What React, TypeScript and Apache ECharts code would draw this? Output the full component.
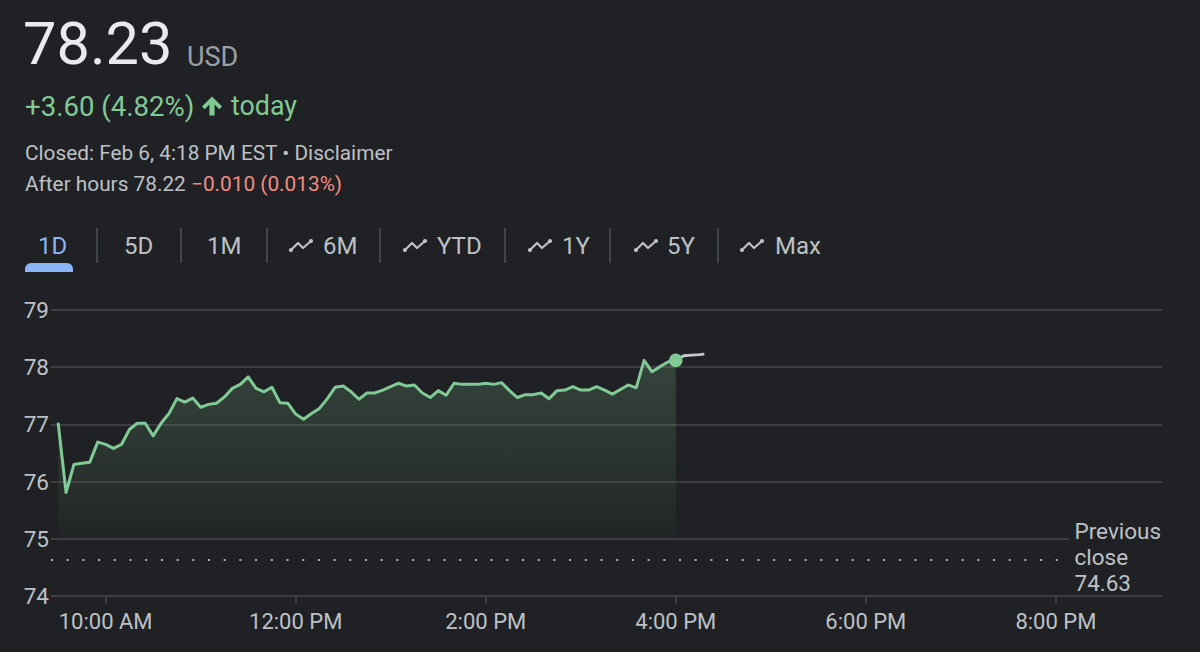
import React, { useEffect, useRef } from "react";
import * as echarts from "echarts";

// ---- data ----
const sessionStartMinute = 570; // 9:30 AM
const sessionStepMinutes = 5;
const prices = [
  77.03, 75.81, 76.30, 76.32, 76.34, 76.69, 76.65, 76.58, 76.65, 76.91,
  77.02, 77.02, 76.80, 77.02, 77.19, 77.45, 77.39, 77.46, 77.30, 77.35,
  77.37, 77.48, 77.63, 77.70, 77.83, 77.63, 77.57, 77.65, 77.38, 77.37,
  77.18, 77.09, 77.19, 77.28, 77.45, 77.65, 77.67, 77.57, 77.44, 77.55,
  77.55, 77.60, 77.66, 77.72, 77.67, 77.69, 77.55, 77.47, 77.59, 77.51,
  77.72, 77.70, 77.70, 77.70, 77.72, 77.70, 77.73, 77.59, 77.47, 77.52,
  77.52, 77.55, 77.45, 77.59, 77.60, 77.66, 77.60, 77.60, 77.66, 77.60,
  77.53, 77.61, 77.69, 77.64, 78.12, 77.92, 78.01, 78.09, 78.12,
];
const afterHoursMinutes = [960, 965, 970, 975, 978];
const afterHoursPrices = [78.12, 78.2, 78.21, 78.22, 78.23];
const previousClose = 74.63;
const xTickValues = [600, 720, 840, 960, 1080, 1200];
const xTickLabels = ["10:00 AM", "12:00 PM", "2:00 PM", "4:00 PM", "6:00 PM", "8:00 PM"];
const yMin = 74;
const yMax = 79;
const tabLabels = ["1D", "5D", "1M", "6M", "YTD", "1Y", "5Y", "Max"];
const tabHasIcon = [false, false, false, true, true, true, true, true];

// ---- layout / style ----
const BG = "#202124";
const GREEN = "#81c995";
const GREY = "#bdc1c6";
const GRID = "#45474b";
const FONT = "Roboto";
const tabTextX = [38, 124, 207, 323, 437, 562, 667, 775];
const tabIconX = [0, 0, 0, 289, 403, 528, 634, 740];
const dividerX = [97, 181, 267, 380, 505, 610, 718];

export default function App() {
  const ref = useRef<HTMLDivElement>(null);

  useEffect(() => {
    if (!ref.current) return;
    const chart = echarts.init(ref.current, null, { renderer: "svg" });

    const lineData = prices.map((p, i) => [sessionStartMinute + sessionStepMinutes * i, p]);
    const lastPoint = lineData[lineData.length - 1];
    const afterData = afterHoursMinutes.map((m, i) => [m, afterHoursPrices[i]]);

    const txt = (text: string, x: number, y: number, size: number, fill: string, extra: any = {}) => ({
      type: "text",
      x,
      y,
      z: 100,
      style: {
        text,
        fill,
        fontSize: size,
        fontFamily: FONT,
        verticalAlign: "middle",
        align: "left",
        ...extra,
      },
    });

    const graphics: any[] = [];
    graphics.push(txt("78.23", 23, 44, 59.5, "#e8eaed"));
    graphics.push(txt("USD", 187, 56.5, 27, "#9aa0a6"));
    graphics.push(txt("+3.60 (4.82%)", 25, 106, 27.6, GREEN));
    graphics.push({
      type: "polygon",
      z: 100,
      shape: {
        points: [
          [212, 96.5],
          [222, 106.5],
          [219.3, 109.2],
          [214.6, 104.5],
          [214.6, 115.5],
          [209.4, 115.5],
          [209.4, 104.5],
          [204.7, 109.2],
          [202, 106.5],
        ],
      },
      style: { fill: GREEN },
    });
    graphics.push(txt("today", 231, 106, 26.8, GREEN));
    graphics.push(txt("Closed: Feb 6, 4:18 PM EST • Disclaimer", 25, 153, 20.8, GREY));
    graphics.push(txt("After hours 78.22", 25, 184, 20.8, GREY));
    graphics.push(txt("−0.010 (0.013%)", 191, 184, 20.8, "#f28b82"));

    tabLabels.forEach((t, i) => {
      graphics.push(txt(t, tabTextX[i], 246, 24, i === 0 ? "#8ab4f8" : GREY));
      if (tabHasIcon[i]) {
        const x0 = tabIconX[i];
        const pts = [
          [x0 + 2, 250],
          [x0 + 9, 243],
          [x0 + 14, 248],
          [x0 + 22, 241],
        ];
        graphics.push({
          type: "polyline",
          z: 100,
          shape: { points: pts },
          style: { stroke: GREY, lineWidth: 2.2, fill: "none", lineJoin: "round" },
        });
        graphics.push({ type: "circle", z: 100, shape: { cx: pts[0][0], cy: pts[0][1], r: 2.1 }, style: { fill: GREY } });
        graphics.push({ type: "circle", z: 100, shape: { cx: pts[3][0], cy: pts[3][1], r: 2.1 }, style: { fill: GREY } });
      }
    });
    dividerX.forEach((x) => {
      graphics.push({
        type: "line",
        z: 100,
        shape: { x1: x, y1: 228, x2: x, y2: 263 },
        style: { stroke: "#4d5054", lineWidth: 1.5 },
      });
    });
    graphics.push({
      type: "rect",
      z: 100,
      shape: { x: 25, y: 263, width: 48, height: 9, r: [6, 6, 0, 0] },
      style: { fill: "#8ab4f8" },
    });

    // previous close label
    graphics.push({
      type: "rect",
      z: 99,
      shape: { x: 1069, y: 515, width: 100, height: 77 },
      style: { fill: BG },
    });
    graphics.push(txt("Previous", 1074.5, 530.5, 22.5, GREY));
    graphics.push(txt("close", 1074.5, 557, 22.5, GREY));
    graphics.push(txt(previousClose.toFixed(2), 1074.5, 583, 22.5, GREY));

    chart.setOption({
      animation: false,
      backgroundColor: BG,
      textStyle: { fontFamily: FONT },
      grid: { left: 51, right: 38, top: 310, bottom: 56, containLabel: false, outerBoundsMode: "none" },
      xAxis: {
        type: "value",
        min: 565.5,
        max: 1267,
        axisLine: { show: false },
        splitLine: { show: false },
        axisTick: {
          show: true,
          length: 8,
          customValues: xTickValues,
          lineStyle: { color: GRID, width: 1.5 },
        },
        axisLabel: {
          customValues: xTickValues,
          color: GREY,
          fontSize: 22,
          fontFamily: FONT,
          margin: 14,
          formatter: (v: number) => {
            const k = xTickValues.indexOf(v);
            return k >= 0 ? xTickLabels[k] : "";
          },
        },
      },
      yAxis: {
        type: "value",
        min: yMin,
        max: yMax,
        interval: 1,
        axisLine: { show: false },
        axisTick: { show: false },
        axisLabel: { color: GREY, fontSize: 22.5, fontFamily: FONT, margin: 2 },
        splitLine: { lineStyle: { color: GRID, width: 1.6 } },
      },
      series: [
        {
          type: "line",
          data: [
            [565.5, previousClose],
            [1205, previousClose],
          ],
          symbol: "none",
          silent: true,
          lineStyle: { color: "#aeb1b6", width: 2, type: [2, 13.7] },
          z: 1,
        },
        {
          type: "line",
          data: lineData,
          symbol: "none",
          lineStyle: { color: GREEN, width: 3, join: "round" },
          areaStyle: {
            origin: 75,
            color: new echarts.graphic.LinearGradient(0, 0, 0, 1, [
              { offset: 0, color: "rgba(129,201,149,0.3)" },
              { offset: 1, color: "rgba(129,201,149,0.03)" },
            ]),
          },
          z: 3,
        },
        {
          type: "line",
          data: afterData,
          symbol: "none",
          lineStyle: { color: "#c4c7cc", width: 2.8 },
          z: 3,
        },
        {
          type: "scatter",
          data: [lastPoint],
          symbolSize: 13.5,
          itemStyle: { color: GREEN, opacity: 1 },
          z: 5,
        },
      ],
      graphic: graphics,
    });

    return () => chart.dispose();
  }, []);

  return (
    <div
      ref={ref}
      style={{ position: "fixed", left: 0, top: 0, width: 1200, height: 652, background: BG }}
    />
  );
}
